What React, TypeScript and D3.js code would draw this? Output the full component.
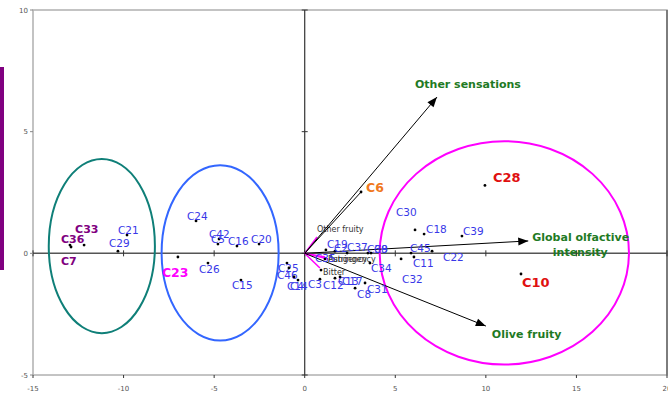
import React from "react";
import * as d3 from "d3";

// ---- data ----
const pointLabels = ["C33","C36","C7","C21","C29","C24","C42","C5","C16","C20","C23","C26","C15","C25","C46","C14","C4","C3","C12","C13","C17","C8","C31","C34","C32","C11","C45","C22","C18","C30","C39","C28","C10","C6","C19","C2","C37","C38","C9","C35"];
const pointX = [-12.18,-12.96,-12.9,-9.81,-10.31,-6.0,-4.73,-4.79,-3.74,-2.52,-7.0,-5.34,-3.52,-0.98,-0.87,-0.59,-0.37,0.84,0.9,1.67,1.95,2.78,3.33,3.6,5.32,6.03,5.87,7.03,6.59,6.09,8.68,9.95,11.94,3.11,1.17,1.67,2.34,3.49,3.66,1.12];
const pointY = [0.34,0.34,0.26,0.75,0.09,1.33,0.59,0.38,0.3,0.38,-0.15,-0.4,-1.1,-0.4,-0.6,-0.97,-1.1,-1.06,-0.69,-1.02,-0.97,-1.43,-1.22,-0.4,-0.23,-0.15,0.01,0.09,0.79,0.96,0.71,2.79,-0.85,2.52,0.14,0.09,0.01,0.01,0.01,-0.23];
const pointGroup = ["p","p","p","b","b","b","b","b","b","b","m","b","b","b","b","b","b","b","b","b","b","b","b","b","b","b","b","b","b","b","b","r","r","o","b","b","b","b","b","b"];

const bigVarNames = ["Other sensations","Global olfactive|intensity","Olive fruity"];
const bigVarX = [7.3, 12.34, 10.0];
const bigVarY = [6.42, 0.51, -2.99];

const smallVarNames = ["Other fruity","Pungency","Astringency","Bitter"];
const smallVarX = [0.68, 1.12, 1.29, 0.84];
const smallVarY = [0.67, -0.15, -0.23, -0.6];

const ellipseCx = [-11.2, -4.67, 11.02];
const ellipseCy = [0.3, 0.02, 0.02];
const ellipseRx = [2.93, 3.23, 6.88];
const ellipseRy = [3.58, 3.6, 4.59];

const xTicks = [-15, -10, -5, 0, 5, 10, 15, 20];
const yTicks = [-5, 0, 5, 10];

// ---- layout / styling (not data) ----
const labelOffsets: Record<string, [number, number]> = {
  C33: [-9, -16], C36: [-9, -6], C7: [-10, 14], C21: [-9, -5], C29: [-9, -8],
  C24: [-9, -5], C42: [-10, -5], C5: [-7, -5], C16: [-9, -5], C20: [-8, -5],
  C23: [-16, 16], C26: [-9, 6], C15: [-9, 5], C25: [-9, 5], C46: [-12, 7],
  C14: [-7, 9], C4: [-8, 6], C3: [-12, 5], C12: [2, 15], C13: [3, 3],
  C17: [2, 4], C8: [2, 6], C31: [2, 6], C34: [1, 5], C32: [1, 20],
  C11: [-1, 6], C45: [-1, -5], C22: [11, 6], C18: [2, -5], C30: [-19, -18],
  C39: [1, -5], C28: [8, -8], C10: [1, 8], C6: [5, -5], C19: [1, -6],
  C2: [-1, -3], C37: [0, -6], C38: [-1, -4], C9: [3, -4], C35: [-10, -1],
};
const groupStyle: Record<string, { fill: string; weight: string; size: number }> = {
  p: { fill: "#800080", weight: "bold", size: 11 },
  b: { fill: "#3838e8", weight: "normal", size: 10.5 },
  m: { fill: "#ff00ff", weight: "bold", size: 12.5 },
  r: { fill: "#e01010", weight: "bold", size: 13 },
  o: { fill: "#f07820", weight: "bold", size: 12.5 },
};
const ellipseColors = ["#0f7f78", "#3366ff", "#ff00ff"];
const smallLabelPos: [number, number][] = [[0, -5], [3, 5], [0, 3], [3, 7]];
const bigLabelPos: [number, number][] = [[-22, -13], [4, -4], [6, 8]];

export default function App() {
  const W = 668, H = 394;
  const x = d3.scaleLinear().domain([-15, 20]).range([33, 667]);
  const y = d3.scaleLinear().domain([-5, 10]).range([375, 10]);
  const ox = x(0), oy = y(0);
  const font = "'DejaVu Sans', Verdana, sans-serif";

  const arrowHead = (tx: number, ty: number, color: string, len = 10, wid = 4) => {
    const ang = Math.atan2(ty - oy, tx - ox);
    const bx = tx - len * Math.cos(ang), by = ty - len * Math.sin(ang);
    const px = -Math.sin(ang) * wid, py = Math.cos(ang) * wid;
    return <polygon points={`${tx},${ty} ${bx + px},${by + py} ${bx - px},${by - py}`} fill={color} />;
  };

  return (
    <svg width={W} height={H} style={{ position: "absolute", left: 0, top: 0, background: "#fff" }}>
      <rect x={0} y={67} width={4} height={203} fill="#800080" />
      {/* frame */}
      <rect x={x(-15)} y={y(10)} width={x(20) - x(-15)} height={y(-5) - y(10)} fill="none" stroke="#b0b0b0" strokeWidth={1.5} />
      <line x1={x(20)} x2={x(20)} y1={y(10)} y2={y(-5)} stroke="#666" strokeWidth={1.5} />
      {/* zero axes */}
      <line x1={x(-15)} x2={x(20)} y1={oy} y2={oy} stroke="#555" strokeWidth={1.5} />
      <line x1={ox} x2={ox} y1={y(10)} y2={y(-5)} stroke="#333" strokeWidth={1.2} />
      {xTicks.map((t) => (
        <g key={"xt" + t}>
          <line x1={x(t)} x2={x(t)} y1={oy - 3} y2={oy + 3} stroke="#333" />
          <line x1={x(t)} x2={x(t)} y1={y(-5)} y2={y(-5) + 3} stroke="#333" />
          <text x={x(t)} y={y(-5) + 16} fontSize={7} fill="#555" textAnchor="middle" fontFamily={font}>{t}</text>
        </g>
      ))}
      {yTicks.map((t) => (
        <g key={"yt" + t}>
          <line x1={ox - 3} x2={ox + 3} y1={y(t)} y2={y(t)} stroke="#333" />
          <line x1={x(-15) - 3} x2={x(-15)} y1={y(t)} y2={y(t)} stroke="#888" />
          <text x={x(-15) - 5} y={y(t) + 2.5} fontSize={7} fill="#555" textAnchor="end" fontFamily={font}>{t}</text>
        </g>
      ))}
      {/* ellipses */}
      {ellipseCx.map((cx, i) => (
        <ellipse key={"e" + i} cx={x(cx)} cy={y(ellipseCy[i])} rx={x(ellipseRx[i]) - x(0)} ry={y(0) - y(ellipseRy[i])} fill="none" stroke={ellipseColors[i]} strokeWidth={2} />
      ))}
      {/* small variables */}
      {smallVarNames.map((n, i) => (
        <g key={"sv" + i}>
          <line x1={ox} y1={oy} x2={x(smallVarX[i])} y2={y(smallVarY[i])} stroke="#ff00ff" strokeWidth={1.5} />
          <text x={x(smallVarX[i]) + smallLabelPos[i][0]} y={y(smallVarY[i]) + smallLabelPos[i][1]} fontSize={8} fill="#333" fontFamily={font}>{n}</text>
        </g>
      ))}
      {/* line to C6 */}
      <line x1={ox} y1={oy} x2={x(pointX[33])} y2={y(pointY[33])} stroke="#000" strokeWidth={1} />
      {/* big variables */}
      {bigVarNames.map((n, i) => {
        const tx = x(bigVarX[i]), ty = y(bigVarY[i]);
        const lines = n.split("|");
        const lx = tx + bigLabelPos[i][0], ly = ty + bigLabelPos[i][1];
        return (
          <g key={"bv" + i}>
            <line x1={ox} y1={oy} x2={tx} y2={ty} stroke="#000" strokeWidth={1} />
            {arrowHead(tx, ty, "#000")}
            {lines.map((l, j) => (
              <text key={j} x={j === 0 ? lx : lx + 48} y={ly + 4 + j * 15} fontSize={11} fontWeight="bold" fill="#1f7a24" textAnchor={j === 0 ? "start" : "middle"} fontFamily={font}>{l}</text>
            ))}
          </g>
        );
      })}
      {/* points */}
      {pointLabels.map((lab, i) => {
        const px = x(pointX[i]), py = y(pointY[i]);
        const st = groupStyle[pointGroup[i]];
        const off = labelOffsets[lab] || [2, -5];
        return (
          <g key={lab}>
            <circle cx={px} cy={py} r={1.4} fill="#000" />
            <text x={px + off[0]} y={py + off[1] + st.size * 0.36} fontSize={st.size} fontWeight={st.weight} fill={st.fill} fontFamily={font}>{lab}</text>
          </g>
        );
      })}
    </svg>
  );
}
